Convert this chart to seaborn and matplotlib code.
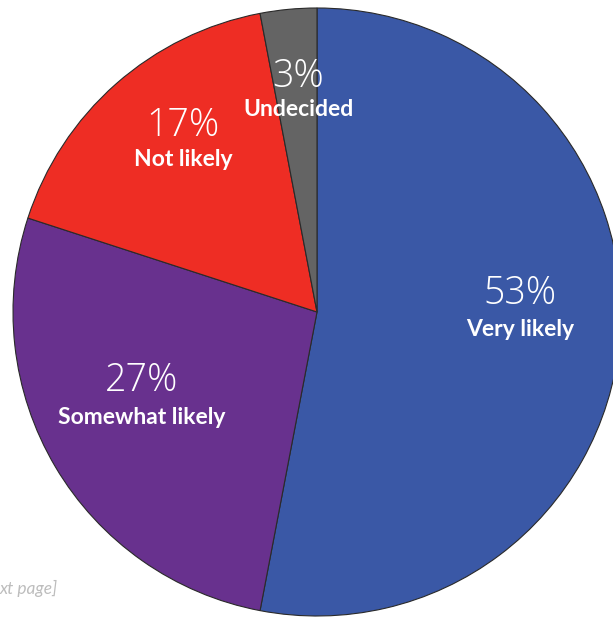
import matplotlib
matplotlib.use("Agg")
import matplotlib.pyplot as plt
import seaborn as sns

categories = ["Very likely", "Somewhat likely", "Not likely", "Undecided"]
shares = [53, 27, 17, 3]
colors = ["#3A58A6", "#68318E", "#EE2D24", "#646464"]

sns.set_theme(style="white")
plt.rcParams["font.family"] = ["Lato", "DejaVu Sans"]

W, H = 613, 618
fig = plt.figure(figsize=(W / 100, H / 100), dpi=100)
cx, cy, r = 317, 312, 304
ax = fig.add_axes([(cx - r) / W, (H - cy - r) / H, 2 * r / W, 2 * r / H])

wedges, _ = ax.pie(
    shares,
    colors=sns.color_palette(colors),
    startangle=90,
    counterclock=False,
    radius=1,
    wedgeprops=dict(edgecolor="#2a2a2a", linewidth=0.8),
)
ax.set_xlim(-1, 1)
ax.set_ylim(-1, 1)
ax.set_aspect("equal")
ax.axis("off")

# label anchor points (pixel positions of the text centres)
label_px = {
    "Very likely": (520, 294, 330),
    "Somewhat likely": (142, 381, 417),
    "Not likely": (183, 126, 160),
    "Undecided": (298, 77, 109),
}
for cat, val in zip(categories, shares):
    px, py_pct, py_name = label_px[cat]
    x = (px - cx) / r
    ax.text(x, (cy - py_pct) / r, f"{val}%", ha="center", va="center",
            color="white", fontsize=27, fontweight="light",
            family=["Open Sans", "Lato", "DejaVu Sans"])
    ax.text(x, (cy - py_name) / r, cat, ha="center", va="center",
            color="white", fontsize=16.5, fontweight="bold")

fig.text(0, 1 - 588 / H, "xt page]", ha="left", va="center",
         color="#BDBDBD", fontsize=12.5, style="italic")

fig.savefig("out.png", dpi=100)
